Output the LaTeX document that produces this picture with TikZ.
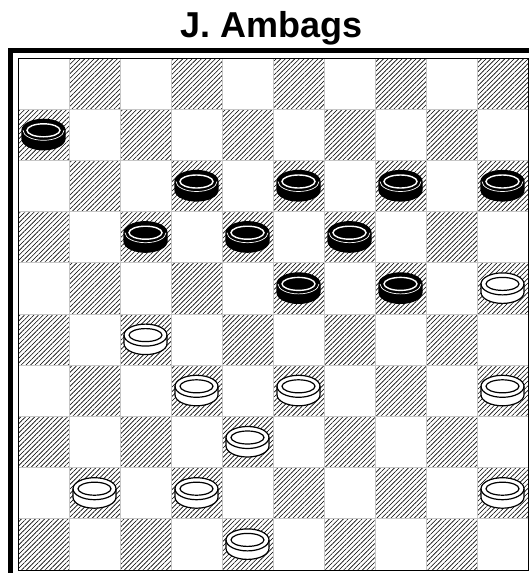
\documentclass[tikz,border=0pt]{standalone}
\usepackage{fontspec}
\setmainfont{Liberation Sans}
\usetikzlibrary{patterns.meta}

\begin{document}
\begin{tikzpicture}[
    x=1pt, y=-1pt,
    dark/.style={pattern={Lines[angle=45, distance=3.3pt, line width=0.6pt]}, pattern color=black},
    gridline/.style={draw=gray!45, line width=0.7pt},
    frame/.style={line width=5pt},
    title/.style={font=\bfseries\fontsize{36}{36}\selectfont, anchor=base},
    manbody/.style={line width=1.2pt},
    whiteman/.pic={
      \filldraw[manbody, fill=white, draw=black] (-21.5,-4.5) -- (-21.5,4)
        arc[start angle=180, end angle=360, x radius=21.5pt, y radius=11pt] -- (21.5,-4.5)
        arc[start angle=0, end angle=180, x radius=21.5pt, y radius=11pt] -- cycle;
      \draw[manbody] (-21.5,-4.5) arc[start angle=180, end angle=360, x radius=21.5pt, y radius=11pt];
      \draw[manbody] (0,-4.5) ellipse[x radius=16.5pt, y radius=6.5pt];
    },
    blackman/.pic={
      \filldraw[manbody, fill=black, draw=black] (-21.5,-4.5) -- (-21.5,4)
        arc[start angle=180, end angle=360, x radius=21.5pt, y radius=11pt] -- (21.5,-4.5)
        arc[start angle=0, end angle=180, x radius=21.5pt, y radius=11pt] -- cycle;
      \draw[white, line width=0.7pt] (-20.5,-4.5) arc[start angle=180, end angle=360, x radius=20.5pt, y radius=10pt];
      \draw[white, line width=1.4pt] (0,-4.5) ellipse[x radius=16.5pt, y radius=6.5pt];
    },
  ]
  \useasboundingbox (0,0) rectangle (529,573);

  % title
  \node[title] (name) at (272,37) {J. Ambags};

  % dark squares
  \foreach \r in {0,...,9}
    \foreach \c in {0,...,9} {
      \pgfmathtruncatemacro\odd{mod(\r+\c,2)}
      \ifnum\odd=1
        \path[dark] ({18+51*\c},{58+51.2*\r}) rectangle ++(51,51.2);
      \fi
    }
  \foreach \i in {1,...,9} {
    \draw[gridline] ({18+51*\i},58) -- ({18+51*\i},570);
    \draw[gridline] (18,{58+51.2*\i}) -- (528,{58+51.2*\i});
  }

  % board edge
  \draw[line width=1pt] (18,58) rectangle (528,570);
  \draw[frame] (8,50.5) -- (529,50.5);
  \draw[frame] (10.5,48) -- (10.5,573);

  % black men
  \foreach \c/\r in {0/1, 3/2, 5/2, 7/2, 9/2, 2/3, 4/3, 6/3, 5/4, 7/4}
    \pic at ({18+51*(\c+0.5)},{58+51.2*(\r+0.5)}) {blackman};
  % white men
  \foreach \c/\r in {9/4, 2/5, 3/6, 5/6, 9/6, 4/7, 1/8, 3/8, 9/8, 4/9}
    \pic at ({18+51*(\c+0.5)},{58+51.2*(\r+0.5)}) {whiteman};
\end{tikzpicture}
\end{document}
